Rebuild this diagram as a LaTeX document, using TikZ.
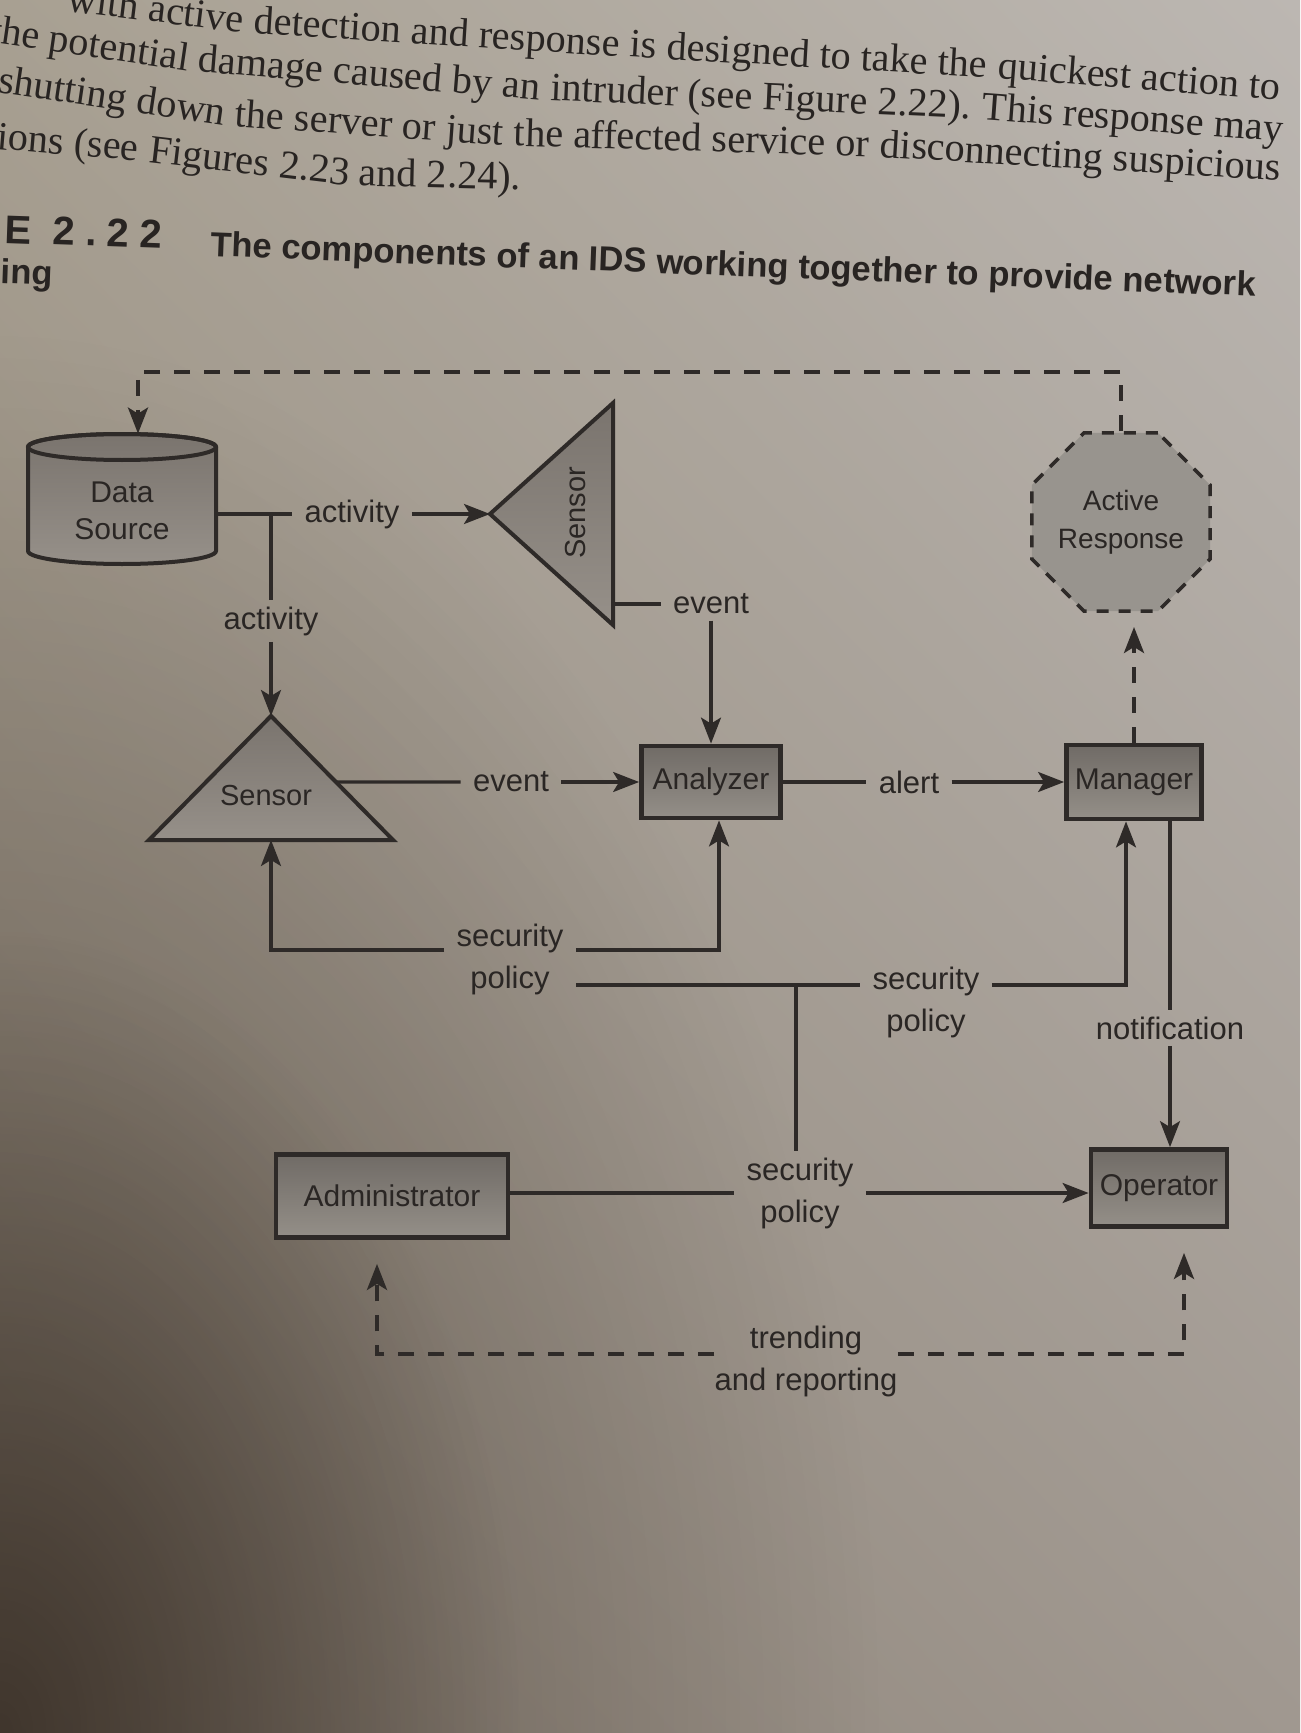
\documentclass[tikz,border=0pt]{standalone}
\usepackage{fontspec}
\setmainfont{Liberation Sans}
\newfontfamily\bodyserif{Liberation Serif}
\usetikzlibrary{arrows.meta,shapes.geometric,calc,shadings,fadings}
\definecolor{ink}{RGB}{46,42,40}
\definecolor{txt}{RGB}{42,38,36}
\definecolor{hdrink}{RGB}{40,36,34}
\definecolor{boxtop}{RGB}{112,107,102}
\definecolor{boxbot}{RGB}{148,143,136}
\definecolor{tritop}{RGB}{122,116,110}
\definecolor{tribot}{RGB}{150,144,137}
\definecolor{arfill}{RGB}{152,148,142}
\definecolor{pUL}{RGB}{168,160,146}
\definecolor{pUR}{RGB}{188,183,178}
\definecolor{pLL}{RGB}{138,128,116}
\definecolor{pLR}{RGB}{160,152,144}
\definecolor{vigdark}{RGB}{40,30,22}
\tikzfading[name=vigfade, inner color=transparent!0, outer color=transparent!100]
\begin{document}
\begin{tikzpicture}[x=0.5pt,y=-0.5pt,
  diagfont/.style={font=\fontsize{15pt}{19pt}\selectfont},
  boxnode/.style={draw=ink, line width=2.4pt, top color=boxtop, bottom color=boxbot,
    inner sep=0pt, text=txt, align=center, diagfont},
  lbl/.style={text=txt, align=center, inner xsep=6pt, inner ysep=3pt,
    font=\fontsize{15.5pt}{21pt}\selectfont},
  trishape/.style={draw=ink, line width=2pt, line join=miter, top color=tritop, bottom color=tribot},
  senstext/.style={text=txt, inner sep=0pt, font=\fontsize{14.5pt}{18pt}\selectfont},
  arnode/.style={regular polygon, regular polygon sides=8, minimum size=86.6pt, inner sep=0pt,
    draw=ink, line width=1.8pt, dash pattern=on 6pt off 5pt, fill=arfill, text=txt,
    align=center, font=\fontsize{14pt}{19pt}\selectfont},
  conn/.style={draw=ink, line width=1.6pt},
  arr/.style={conn, -{Stealth[length=13pt,width=10pt,inset=3pt]}},
  dconn/.style={conn, line width=1.9pt, dash pattern=on 8pt off 7pt},
  darr/.style={dconn, -{Stealth[length=13pt,width=10pt,inset=3pt]}},
  hdr/.style={anchor=base west, inner sep=0pt, text=hdrink, font=\bodyserif\fontsize{20.1pt}{24pt}\selectfont},
  captext/.style={anchor=base west, inner sep=0pt, text=hdrink, font=\bfseries\fontsize{17.3pt}{20pt}\selectfont}
]
\useasboundingbox (0,0) rectangle (1300,1733);
\clip (0,0) rectangle (1300,1733);
\shade[upper left=pUL, upper right=pUR, lower left=pLL, lower right=pLR] (0,0) rectangle (1300,1733);
\fill[vigdark, fill opacity=0.45, path fading=vigfade] (0,1733) ellipse [x radius=440pt, y radius=700pt];
\fill[vigdark, fill opacity=0.55, path fading=vigfade] (0,1733) ellipse [x radius=260pt, y radius=400pt];

% ---- page text (curved lines of the photographed page, in pieces) ----
\node[hdr, rotate=-7]   (h1a) at (66,11) {with active};
\node[hdr, rotate=-3.6] (h1b) at (h1a.base east) {\ detection and response};
\node[hdr, rotate=-3.3] (h1c) at (h1b.base east) {\ is designed to take the};
\node[hdr, rotate=-4.4] (h1d) at (h1c.base east) {\ quickest action to};

\node[hdr, rotate=-8.3] (h2a) at (-11,42) {the potential};
\node[hdr, rotate=-4.7] (h2b) at (h2a.base east) {\ damage caused by an};
\node[hdr, rotate=-2.5] (h2c) at (h2b.base east) {\ intruder (see Figure 2.22).};
\node[hdr, rotate=-4.2] (h2d) at (h2c.base east) {\ This response may};

\node[hdr, rotate=-8.4] (h3a) at (-3,92) {shutting down};
\node[hdr, rotate=-4.1] (h3b) at (h3a.base east) {\ the server or just};
\node[hdr, rotate=-1.7] (h3c) at (h3b.base east) {\ the affected service or};
\node[hdr, rotate=-3.4] (h3d) at (h3c.base east) {\ disconnecting suspicious};

\node[hdr, rotate=-4.8] (h4a) at (-4,149) {ions (see};
\node[hdr, rotate=-6.7] (h4b) at (h4a.base east) {\ Figures 2.23};
\node[hdr, rotate=-1.3] (h4c) at (h4b.base east) {\ and 2.24).};

\node[captext, rotate=-2, font=\bfseries\fontsize{20pt}{22pt}\selectfont\addfontfeature{LetterSpace=26}] (c0) at (4,243) {E 2.22};
\node[captext, rotate=-2.2] (c1) at (210,256) {The components of an IDS working together to provide network};
\node[captext, rotate=-2] (c2) at (0,283) {ing};

% ---- shapes ----
% Data Source cylinder
\draw[draw=ink, line width=2pt, top color=tritop, bottom color=tribot]
  (28,447) -- (28,551) arc[start angle=180,end angle=360,x radius=47pt,y radius=6.5pt]
  -- (216,447) arc[start angle=0,end angle=180,x radius=47pt,y radius=6.5pt] -- cycle;
\draw[draw=ink, line width=2pt] (122,447) ellipse[x radius=47pt,y radius=6.5pt];
\node[inner sep=0pt, minimum width=94pt, minimum height=65pt] (ds) at (122,499) {};
\node[senstext, align=center, font=\fontsize{15pt}{18.5pt}\selectfont] (dstxt) at (122,511) {Data\\Source};

% top sensor (pointing left)
\coordinate (s1apex) at (490,514);
\coordinate (s1top) at (613,403);
\coordinate (s1bot) at (613,625);
\draw[trishape] (s1apex) -- (s1top) -- (s1bot) -- cycle;
\node[senstext, rotate=90] (s1) at (576,513) {Sensor};

% bottom sensor (pointing up)
\coordinate (s2apex) at (271,716);
\coordinate (s2bl) at (149,840);
\coordinate (s2br) at (393,840);
\draw[trishape] (s2apex) -- (s2br) -- (s2bl) -- cycle;
\node[senstext] (s2) at (266,796) {Sensor};

% boxes
\node[boxnode, minimum width=69.5pt, minimum height=36pt] (an) at (711,782) {Analyzer};
\node[boxnode, minimum width=67.5pt, minimum height=37pt] (mg) at (1134,782) {Manager};
\node[boxnode, minimum width=68pt, minimum height=38.5pt] (op) at (1159,1188) {Operator};
\node[boxnode, minimum width=116pt, minimum height=41.5pt] (ad) at (392,1196) {Administrator};
\node[arnode] (ar) at (1121,522) {Active\\Response};

% labels
\node[lbl] (act1) at (352,514) {activity};
\node[lbl] (act2) at (271,621) {activity};
\node[lbl] (ev1) at (711,604) {event};
\node[lbl] (ev2) at (511,782) {event};
\node[lbl] (alert) at (909,782) {alert};
\node[lbl] (sp1) at (510,959) {security\\policy};
\node[lbl] (sp2) at (926,1002) {security\\policy};
\node[lbl] (sp3) at (800,1193) {security\\policy};
\node[lbl] (nt) at (1170,1028) {notification};
\node[lbl, inner sep=0pt] (tr) at (806,1361) {trending\\and reporting};

% connector corner points
\coordinate (j1) at (271,514);
\coordinate (tl) at (138,372);
\coordinate (c1) at (271,950);
\coordinate (c2) at (719,950);
\coordinate (jn) at (796,985);
\coordinate (c3) at (1126,985);
\coordinate (cL) at (377,1354);
\coordinate (cR) at (1184,1354);

% ---- connectors ----
\draw[conn] (ds.east |- act1.west) -- (act1.west);
\draw[arr] (act1.east) -- (s1apex);
\draw[conn] (j1) -- (act2.north);
\draw[arr] (act2.south) -- (s2apex);
\draw[conn] (s1top |- ev1.west) -- (ev1.west);
\draw[arr] (ev1.south) -- (an.north);
\draw[conn] ($(s2apex)!0.532!(s2br)$) -- (ev2.west);
\draw[arr] (ev2.east) -- (an.west);
\draw[conn] (an.east) -- (alert.west);
\draw[arr] (alert.east) -- (mg.west);
\draw[darr, shorten >=7pt] (mg.north) -- (mg.north |- ar.south);
\draw[darr] (ar.north) |- (tl) -- (tl |- ds.north);
\draw[arr] (sp1.west |- c1) -- (c1) -- (c1 |- s2bl);
\draw[arr] (sp1.east |- c2) -- (c2) -- (c2 |- an.south);
\draw[conn] (sp1.east |- jn) -- (sp2.west |- jn);
\draw[conn] (jn) -- (jn |- sp3.north);
\draw[arr] (sp2.east |- c3) -- (c3) -- (c3 |- mg.south);
\draw[conn] (nt |- mg.south) -- (nt.north);
\draw[arr] (nt.south) -- (nt |- op.north);
\draw[conn] (ad.east |- sp3.west) -- (sp3.west);
\draw[arr] (sp3.east) -- (op.west |- sp3.east);
\draw[darr, shorten >=12pt] (tr.west |- cL) -- (cL) -- (cL |- ad.south);
\draw[darr, shorten >=12pt] (tr.east |- cR) -- (cR) -- (cR |- op.south);
\end{tikzpicture}
\end{document}
